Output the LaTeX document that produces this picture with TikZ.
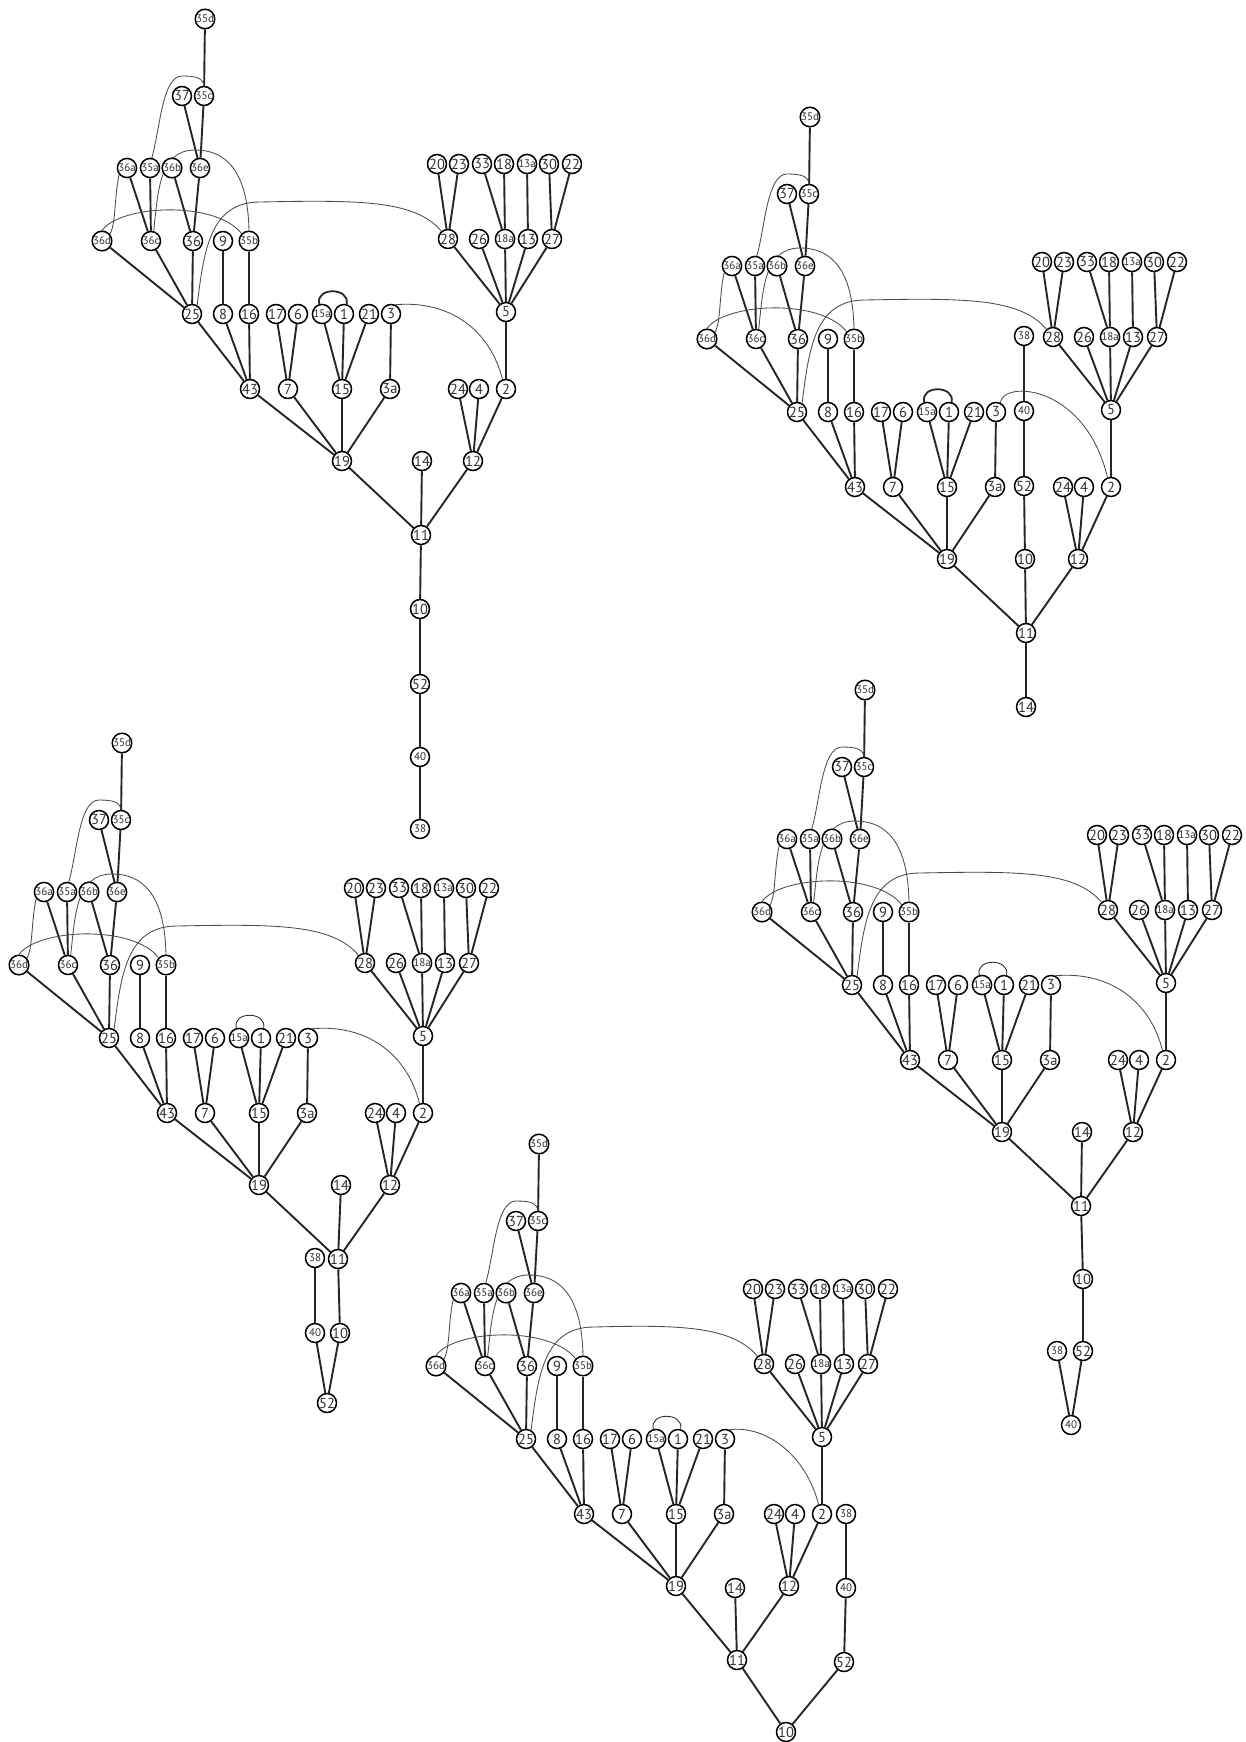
\documentclass[tikz,border=0pt]{standalone}
\usepackage{fontspec}
\setmainfont{PT Sans}
\pgfdeclarelayer{background}
\pgfdeclarelayer{paper}
\pgfsetlayers{paper,background,main}
\tikzset{
  tnode/.style={circle,draw=black,line width=1.5pt,fill=white,minimum size=19pt,inner sep=0pt,
    font=\fontsize{14.5}{14.5}\selectfont,text=black!80},
  sm/.style={font=\fontsize{11}{11}\selectfont},
  edge/.style={line width=1.9pt,draw=black!85},
  tcurve/.style={line width=0.85pt,draw=black!70},
}
\newcommand\tp{}
\newcommand\rs{0}
\newcommand\tn[4][]{\node[tnode,#1] (\tp-#2) at ({#3},{#4}) {#2};}
\newcommand\ed[2]{\draw[edge] (\tp-#1) -- (\tp-#2);}
% #1 prefix, #2 xoff, #3 yoff, #4 right shift, #5 arc width, #6 curve controls, #7 chain nodes, #8 chain edges
\newcommand\drawtree[8]{%
\renewcommand\tp{#1}\renewcommand\rs{#4}%
\begin{scope}[shift={(#2,#3)}]
  \tn[sm]{35d}{205}{19}
  \tn{37}{182}{96}
  \tn[sm]{35c}{204}{96}
  \tn[sm]{36a}{127}{168}
  \tn[sm]{35a}{150}{168}
  \tn[sm]{36b}{172}{168}
  \tn[sm]{36e}{200}{168}
  \tn[sm]{36d}{102}{241}
  \tn[sm]{36c}{151}{241}
  \tn{36}{193}{241}
  \tn{9}{223}{241}
  \tn[sm]{35b}{249}{241}
  \tn{25}{192}{314}
  \tn{8}{223}{314}
  \tn{16}{249}{314}
  \tn{17}{276}{314}
  \tn{6}{298}{314}
  \tn[sm]{15a}{322}{314}
  \tn{1}{344}{314}
  \tn{21}{369}{314}
  \tn{3}{391}{314}
  \tn{43}{250}{389}
  \tn{7}{288}{389}
  \tn{15}{342}{389}
  \tn{3a}{390}{389}
  \tn{19}{342}{461}
  \tn{20}{437+\rs}{164}
  \tn{23}{459+\rs}{164}
  \tn{33}{482+\rs}{164}
  \tn{18}{504+\rs}{164}
  \tn[sm]{13a}{527+\rs}{164}
  \tn{30}{549+\rs}{164}
  \tn{22}{572+\rs}{164}
  \tn{28}{448+\rs}{239}
  \tn{26}{479+\rs}{239}
  \tn[sm]{18a}{505+\rs}{239}
  \tn{13}{528+\rs}{239}
  \tn{27}{552+\rs}{239}
  \tn{5}{506+\rs}{312}
  \tn{24}{458+\rs}{389}
  \tn{4}{479+\rs}{389}
  \tn{2}{506+\rs}{389}
  \tn{12}{473+\rs}{461}
  \tn{11}{421+\rs}{535}
  #7
  \begin{pgfonlayer}{background}
    \ed{35d}{35c}\ed{37}{36e}\ed{35c}{36e}
    \ed{36a}{36c}\ed{35a}{36c}\ed{36b}{36}\ed{36e}{36}
    \ed{36d}{25}\ed{36c}{25}\ed{36}{25}
    \ed{9}{8}\ed{35b}{16}
    \ed{25}{43}\ed{8}{43}\ed{16}{43}
    \ed{17}{7}\ed{6}{7}
    \ed{15a}{15}\ed{1}{15}\ed{21}{15}
    \ed{3}{3a}
    \ed{43}{19}\ed{7}{19}\ed{15}{19}\ed{3a}{19}
    \ed{20}{28}\ed{23}{28}\ed{33}{18a}\ed{18}{18a}\ed{13a}{13}\ed{30}{27}\ed{22}{27}
    \ed{28}{5}\ed{26}{5}\ed{18a}{5}\ed{13}{5}\ed{27}{5}
    \ed{5}{2}
    \ed{24}{12}\ed{4}{12}\ed{2}{12}
    \ed{19}{11}\ed{12}{11}
    #8
    \draw[tcurve] (\tp-35a.80) .. controls (160,130) and (162,76) .. (182,76)
                  .. controls (196,76) and (203,78) .. (\tp-35c.north);
    \draw[tcurve] (\tp-36c.75) .. controls (158,195) and (158,150) .. (195,150)
                  .. controls (235,150) and (248,185) .. (\tp-35b.north);
    \draw[tcurve] (\tp-36a.220) .. controls (114,200) and (116,222) .. (\tp-36d.40);
    \draw[tcurve] (\tp-36d.north) .. controls (120,205) and (215,200) .. (\tp-35b.135);
    \draw[tcurve] (\tp-25.60) .. controls (204,250) and (210,202) .. (260,202)
                  .. controls ({360+\rs},200) and ({415+\rs},200) .. (\tp-28.130);
    \draw[line width=#5,draw=black!85] (\tp-15a.105) .. controls (315,287) and (350,287) .. (\tp-1.75);
    \draw[tcurve] (\tp-3.65) .. controls #6 .. (\tp-2.110);
  \end{pgfonlayer}
\end{scope}}

\begin{document}
\begin{tikzpicture}[x=1pt,y=-1pt]
\begin{pgfonlayer}{paper}
\fill[white] (0,0) rectangle (1246,1742);
\end{pgfonlayer}
\useasboundingbox (0,0) rectangle (1246,1742);

% tree 1 (top left)
\drawtree{A}{0}{0}{0}{1.8pt}{(450,300) and (490,330)}
 {\tn{14}{422}{461}\tn{10}{420}{609}\tn{52}{420}{684}\tn[sm]{40}{420}{757}\tn[sm]{38}{420}{829}}
 {\ed{14}{11}\ed{11}{10}\ed{10}{52}\ed{52}{40}\ed{40}{38}}

% tree 2 (top right)
\drawtree{B}{605}{98}{0}{1.8pt}{(398,282) and (480,286)}
 {\tn[sm]{38}{419}{238}\tn[sm]{40}{419}{313}\tn{52}{419}{388}\tn{10}{420}{461}\tn{14}{421}{609}}
 {\ed{11}{14}\ed{11}{10}\ed{10}{52}\ed{52}{40}\ed{40}{38}}

% tree 3 (bottom left)
\drawtree{C}{-83}{724}{0}{0.85pt}{(450,300) and (490,330)}
 {\tn{14}{424}{461}\tn[sm]{38}{398}{534}\tn[sm]{40}{398}{609}\tn{10}{423}{609}\tn{52}{410}{679}}
 {\ed{14}{11}\ed{11}{10}\ed{10}{52}\ed{40}{52}\ed{38}{40}}

% tree 4 (middle right)
\drawtree{D}{660}{671}{0}{0.85pt}{(450,300) and (490,330)}
 {\tn{14}{422}{461}\tn{10}{423}{608}\tn{52}{423}{680}\tn[sm]{38}{397}{680}\tn[sm]{40}{411}{754}}
 {\ed{14}{11}\ed{11}{10}\ed{10}{52}\ed{52}{40}\ed{38}{40}}

% tree 5 (bottom middle)
\drawtree{E}{334}{1125}{(-18)}{0.85pt}{(432,300) and (472,330)}
 {\tn{14}{401}{463}\tn[sm]{38}{512}{389}\tn[sm]{40}{512}{463}\tn{52}{510}{537}\tn{10}{452}{607}}
 {\ed{14}{11}\ed{11}{10}\ed{52}{10}\ed{40}{52}\ed{38}{40}}
\end{tikzpicture}
\end{document}
